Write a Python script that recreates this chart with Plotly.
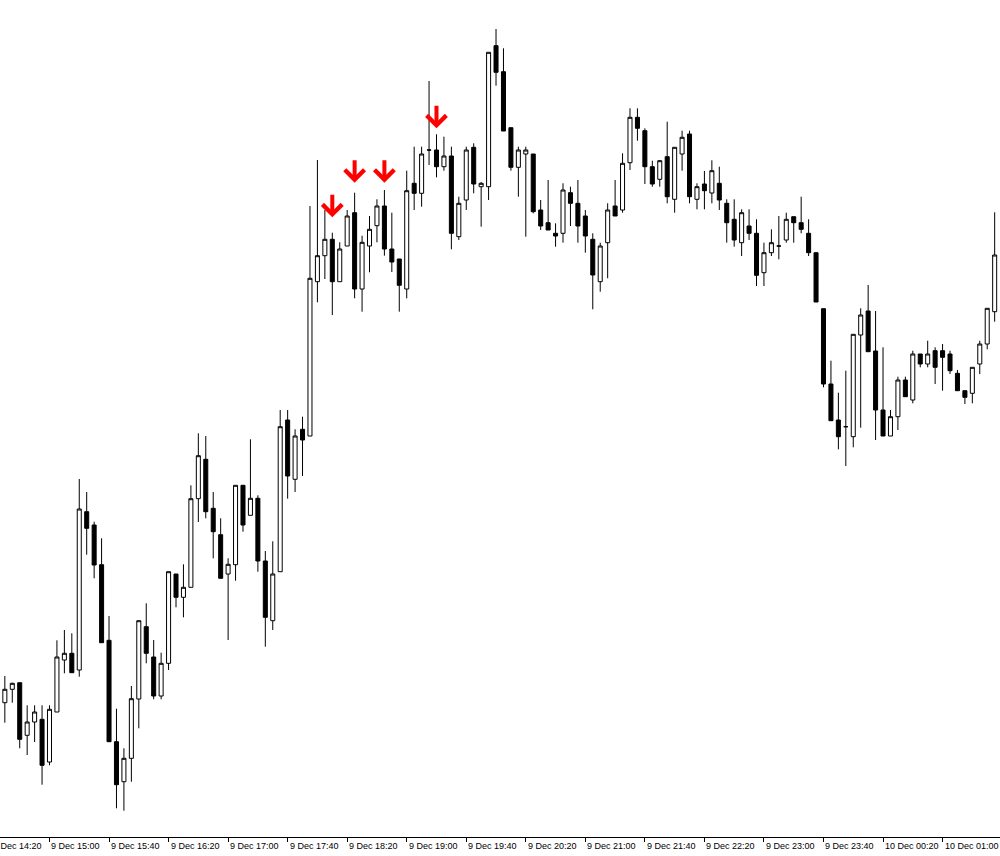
import pandas as pd
import plotly.graph_objects as go

# 5-minute bars, 9 Dec 14:30 -> 10 Dec 01:35.
# No price scale is visible, so prices are read off the picture in points above the time axis.
bar_time = pd.date_range("2023-12-09 14:30", periods=134, freq="5min")

bar_open = [
    134.3, 147.7, 154.3, 101.7, 115, 117.7, 75, 125, 177, 183.7,
    167, 325.3, 312, 272.3, 196.7, 95.3, 55.3, 78.7, 138, 210.3,
    180, 141, 173.7, 263, 239.7, 249.7, 338.3, 377.7, 328.7, 302.3,
    263, 272.3, 351.7, 321.7, 338.7, 276, 216.3, 265.3, 417, 357.7,
    407.7, 401, 555.3, 581.3, 597.7, 555.3, 591, 624.3, 548, 591,
    611.3, 631, 588, 578, 548, 653.7, 643.7, 687, 687, 670.3,
    681, 600.3, 637, 689.7, 650.3, 650.3, 791.3, 765.3, 709.3, 669.7,
    683, 683, 627, 614.3, 603.7, 603.7, 644.3, 633.7, 621, 597.7,
    555.3, 594.3, 631, 627, 674.3, 719.7, 706.3, 670.3, 657.7, 680.3,
    637.7, 683, 703, 637.7, 653, 644, 653.7, 633.7, 617.7, 594.3,
    611, 603.7, 564.3, 584.3, 591, 597, 620.3, 614.3, 603.7, 584.3,
    528.3, 453, 417, 410.3, 400.3, 502, 526, 486, 427, 401,
    420.3, 457, 437, 483, 473, 486.3, 486.3, 483, 463.7, 446.3,
    443.7, 473, 493, 525.3,
]
bar_high = [
    161, 154.3, 154.3, 131.7, 131.7, 131.7, 131.7, 196.7, 207, 203.7,
    358, 345, 315.3, 298.7, 221, 128.3, 88.7, 151, 216.3, 233.7,
    197, 184.3, 265.3, 263, 272.7, 351.7, 403.7, 401, 345, 318.7,
    278.7, 351.7, 351.7, 397.7, 341.7, 286, 295.7, 427, 427, 407.7,
    420.3, 631, 677, 627, 604.3, 594.7, 627, 644.3, 601.3, 621,
    637.7, 647, 624.3, 578, 666.3, 690.3, 690.3, 756, 702.7, 700.3,
    690.3, 640.3, 690.3, 693.7, 655, 784.7, 808, 788.7, 709.3, 690.3,
    690.3, 683, 637, 657, 613.7, 653.7, 650.3, 657, 627, 603.7,
    594.3, 633.7, 657, 683.7, 728.7, 728.7, 708.7, 676.3, 677, 715.3,
    689.7, 706.3, 706.3, 653.7, 666, 676.7, 670.3, 637.7, 637.7, 627.7,
    627.7, 617.7, 594.3, 607.7, 621, 624.3, 620.3, 640.3, 617.7, 584.3,
    528.3, 476.3, 444.3, 466.3, 502.7, 528.7, 552, 526, 489.7, 427,
    460.3, 460.3, 486.3, 483, 496.3, 489.7, 493, 486.3, 467, 446.3,
    469.7, 496.3, 528.7, 624.7,
]
bar_low = [
    114.3, 134.3, 88.7, 82, 95, 52.3, 71.7, 125, 163.7, 164.3,
    160.3, 282.3, 258.7, 194.3, 95.3, 28.7, 26.3, 55.3, 108.7, 173.7,
    137.7, 137.7, 167, 229.7, 219.7, 249.7, 315, 318.7, 278.7, 258.7,
    197, 256.3, 305.3, 321.7, 265.3, 190.3, 207, 265.3, 338.3, 345,
    361, 401, 534.7, 558, 522, 555.3, 591, 538.7, 525.3, 564.7,
    594.7, 581.3, 565, 525.3, 538.7, 627, 630.3, 672, 659.7, 666.3,
    587.7, 597, 627, 643.7, 610.3, 637, 751.3, 706, 666.3, 640.3,
    600.3, 623.7, 607, 607, 590.3, 594.3, 611, 594.3, 584.3, 527.7,
    545.3, 558.7, 621, 624.3, 667, 696.3, 653, 650.3, 650.3, 633.7,
    624.3, 666.3, 633.7, 627.7, 627.7, 633.7, 627, 594.3, 590.3, 581,
    597, 551, 551, 581, 577.7, 594.3, 594.3, 603.7, 581, 535,
    449.7, 416.3, 387.7, 371, 389.7, 409.3, 485.3, 397, 401, 401,
    407, 440.3, 433.7, 469.7, 469.7, 453, 446.3, 463, 446.3, 433,
    433.7, 463, 487.7, 515.3,
]
bar_close = [
    147.7, 153.7, 97.7, 115, 125, 71.7, 127.7, 180, 183.7, 164.3,
    328, 308.7, 272, 194.3, 95.3, 52.3, 78.7, 138.3, 216.3, 183.7,
    141, 173.7, 265.3, 239.7, 249.7, 338.3, 381.3, 325.3, 305.3, 258.7,
    272.7, 351.7, 312, 338.7, 276, 219.7, 263, 410.3, 361, 401,
    397, 558.7, 581.3, 597.7, 555.3, 588, 621, 548, 594.7, 607.7,
    631, 588, 575, 551.7, 646.3, 643.7, 683, 687, 670.3, 681,
    603.7, 633.7, 687, 653, 653.7, 784.7, 764.7, 706, 669.7, 687,
    687, 625.3, 611, 607, 601, 647, 633.7, 611, 601, 562,
    591, 627, 621, 673.7, 719.7, 708.7, 670.3, 653, 676.3, 640.3,
    689.7, 699.7, 640.3, 650.3, 646.3, 666.3, 637, 614.3, 597, 624.3,
    603.7, 561.7, 584.3, 594.3, 591, 617.7, 614.3, 607.7, 584.3, 535,
    453, 416.3, 400.3, 410.3, 502.7, 522, 485.3, 427, 401, 420.3,
    457, 440.3, 483, 473, 483, 469.7, 479.7, 466.3, 446.3, 439.7,
    469.7, 493, 528.7, 582,
]

# sell signals (red arrows): bar index and the level of the arrow tip
signal_bar = [44, 47, 51, 58]
signal_level = [619.7, 654.3, 654.3, 708.7]

tick_time = pd.date_range("2023-12-09 14:20", "2023-12-10 01:00", freq="40min")
tick_text = [f"{t.day} Dec {t:%H:%M}" for t in tick_time]

fig = go.Figure(go.Candlestick(
    x=bar_time, open=bar_open, high=bar_high, low=bar_low, close=bar_close,
    increasing=dict(line=dict(color="black", width=1), fillcolor="white"),
    decreasing=dict(line=dict(color="black", width=1), fillcolor="black"),
    whiskerwidth=0, hoverinfo="x+y",
))

for i, lvl in zip(signal_bar, signal_level):
    fig.add_annotation(x=bar_time[i], y=lvl, text="", showarrow=True, arrowhead=4,
                       arrowwidth=4, arrowsize=0.95, arrowcolor="#ff0000", ax=0, ay=-24)

# MT4 puts the time label to the right of its tick; the first one is cut by the left edge
for t, txt in zip(tick_time, tick_text):
    if t < bar_time[0]:
        fig.add_annotation(x=0, xref="paper", xanchor="left", xshift=-9, y=0, yref="paper",
                           yanchor="top", yshift=-2, text=txt, showarrow=False)
    else:
        fig.add_annotation(x=t, xanchor="left", y=0, yref="paper", yanchor="top", yshift=-2,
                           text=txt, showarrow=False)

fig.update_layout(
    width=1000, height=856, margin=dict(l=0, r=0, t=0, b=19),
    paper_bgcolor="white", plot_bgcolor="white", showlegend=False,
    boxgap=0.46, boxgroupgap=0,
    font=dict(family="Liberation Sans, Arial, sans-serif", size=9, color="black"),
)
fig.update_xaxes(
    type="date", range=["2023-12-09 14:26:45", "2023-12-10 01:38:35"],
    rangeslider_visible=False, showgrid=False, zeroline=False,
    showline=True, linecolor="black", linewidth=1,
    tickvals=tick_time, ticks="outside", ticklen=4, tickcolor="black", showticklabels=False,
)
fig.update_yaxes(range=[0, 837], visible=False, showgrid=False, zeroline=False)

fig.write_html("out.html", config={"displayModeBar": False},
               post_script="document.body.style.margin='0';document.body.style.overflow='hidden';")
